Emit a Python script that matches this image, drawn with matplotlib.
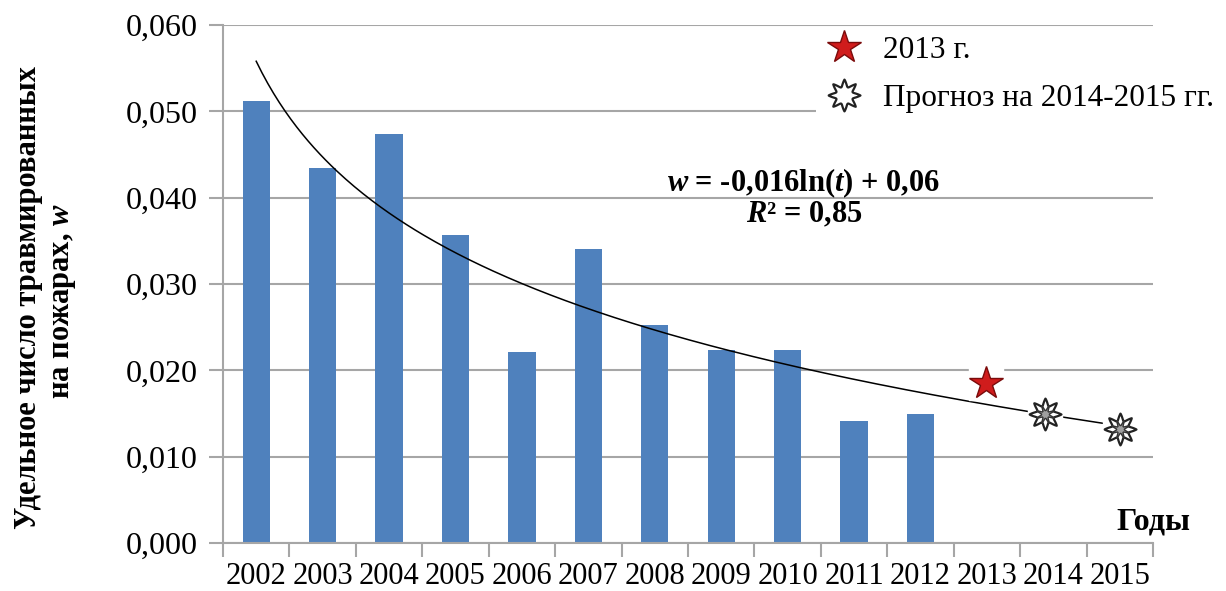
import numpy as np
import matplotlib.pyplot as plt
from matplotlib.lines import Line2D
from matplotlib.path import Path

plt.rcParams['font.family'] = ['Liberation Serif', 'DejaVu Serif']
plt.rcParams['mathtext.fontset'] = 'custom'
plt.rcParams['mathtext.rm'] = 'Liberation Serif'
plt.rcParams['mathtext.it'] = 'Liberation Serif:italic'
plt.rcParams['mathtext.bf'] = 'Liberation Serif:bold'
plt.rcParams['mathtext.bfit'] = 'Liberation Serif:bold:italic'

years = ['2002', '2003', '2004', '2005', '2006', '2007', '2008',
         '2009', '2010', '2011', '2012', '2013', '2014', '2015']
w_values = [0.0512, 0.0434, 0.0474, 0.0357, 0.0221, 0.0340, 0.0252,
            0.0223, 0.0223, 0.0141, 0.0149]
w_2013 = 0.0185
forecast_years = ['2014', '2015']
forecast_values = [0.0150, 0.0132]
# trend w = a*ln(t) + b, t = 1 for 2002
trend_a = -0.016
trend_b = 0.0558

grid_col = '#a6a6a6'
bar_col = '#4f81bd'


def flower(n=8, inner=0.5, rot=0.0, p=1.0):
    phi = np.linspace(0, 2 * np.pi, 400)
    r = inner + (1 - inner) * (1 - np.abs(np.sin(n / 2 * (phi - rot)))) ** p
    return Path(np.column_stack([r * np.cos(phi), r * np.sin(phi)]), closed=True)


flower_out = flower(8, 0.55, np.pi / 2, 1.0)
flower_in = flower(8, 0.4, np.pi / 2 + np.pi / 8, 1.5)

fig = plt.figure(figsize=(12.26, 5.91), dpi=100)
ax = fig.add_axes([223 / 1226, 1 - 543 / 591, 930 / 1226, 518 / 591])

x = np.arange(len(years))
ax.bar(x[:len(w_values)], w_values, width=0.41, color=bar_col, zorder=2)

t = np.linspace(1, len(years), 300)
ax.plot(t - 1, trend_a * np.log(t) + trend_b, color='black', lw=1.1, zorder=3)

# white boxes behind the markers (as in the original picture)
x13 = years.index('2013')
xf = np.array([years.index(y) for y in forecast_years]) - [0.12, 0.0]
ax.plot([x13 - 0.02], [w_2013], marker='s', ms=24, color='white', ls='none', zorder=4)
ax.plot(xf, forecast_values, marker='s', ms=24, color='white', ls='none', zorder=4)

ax.plot([x13 - 0.02], [w_2013], marker='*', ms=25, mfc='#d01c1c', mec='#7a0b0b',
        mew=1, ls='none', zorder=5)
ax.plot(xf, forecast_values, marker=flower_out, ms=23, mfc='white', mec='#222222',
        mew=1.6, ls='none', zorder=5)
ax.plot(xf, forecast_values, marker=flower_in, ms=13, mfc='#a0a0a0', mec='#333333',
        mew=1.0, ls='none', zorder=6)

ax.set_xlim(-0.5, len(years) - 0.5)
ax.set_ylim(0, 0.060)
ax.set_yticks(np.arange(0, 0.061, 0.010))
ax.set_yticklabels([f'{v:.3f}'.replace('.', ',') for v in np.arange(0, 0.061, 0.010)])
ax.yaxis.grid(True, color=grid_col, lw=1.5, zorder=0)
ax.set_axisbelow(True)

ax.set_xticks(np.arange(len(years) + 1) - 0.5)
ax.set_xticklabels([])
ax.set_xticks(x, minor=True)
ax.set_xticklabels(years, minor=True)
ax.tick_params(axis='x', which='major', length=10, width=1.5, color=grid_col, direction='out')
ax.tick_params(axis='x', which='minor', length=0, pad=14, labelsize=22)
ax.tick_params(axis='y', length=10, width=1.5, color=grid_col, pad=8, labelsize=23)

for s in ['top', 'right']:
    ax.spines[s].set_visible(False)
for s in ['left', 'bottom']:
    ax.spines[s].set_color(grid_col)
    ax.spines[s].set_linewidth(1.5)

fig.text(29 / 1226, 1 - 298 / 591, 'Удельное число травмированных', rotation=90,
         ha='center', va='center', fontsize=22, fontweight='bold')
fig.text(64 / 1226, 1 - 301 / 591, r'на пожарах, $\mathbfit{w}$', rotation=90,
         ha='center', va='center', fontsize=22, fontweight='bold')

fig.text(1190 / 1226, 1 - 522 / 591, 'Годы', ha='right', va='center',
         fontsize=23, fontweight='bold')

fig.text(804 / 1226, 1 - 183 / 591, r'$\mathbfit{w}$ = -0,016ln($\mathbfit{t}$) + 0,06',
         ha='center', va='center', fontsize=22, fontweight='bold')
fig.text(804 / 1226, 1 - 215 / 591, r'$\mathbfit{R}$² = 0,85',
         ha='center', va='center', fontsize=22, fontweight='bold')

handles = [
    Line2D([], [], marker='*', ms=25, mfc='#d01c1c', mec='#7a0b0b', ls='none'),
    Line2D([], [], marker=flower_out, ms=23, mfc='white', mec='#222222', mew=1.6, ls='none'),
]
leg = ax.legend(handles, ['2013 г.', 'Прогноз на 2014-2015 гг.'],
                loc='upper left', bbox_to_anchor=(816 / 1226, 1 - 28 / 591),
                bbox_transform=fig.transFigure, fontsize=22.5, frameon=True,
                facecolor='white', edgecolor='none', framealpha=1,
                borderpad=0.25, labelspacing=0.62, handletextpad=0.6,
                handlelength=1.3, borderaxespad=0)
leg.set_zorder(10)

fig.savefig('out.png', dpi=100)
